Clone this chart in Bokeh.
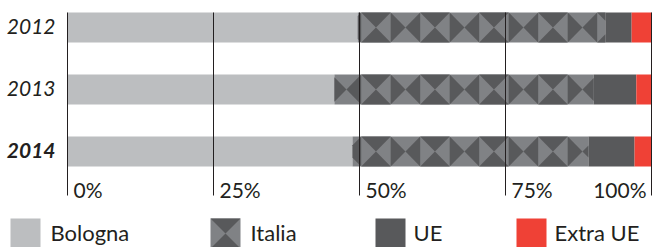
import math
from bokeh.plotting import figure
from bokeh.models import Range1d
from bokeh.embed import file_html
from bokeh.resources import INLINE
from bokeh.core.properties import value

# ---------------- data ----------------
years = ["2012", "2013", "2014"]
bologna = [49.7, 45.7, 48.8]
italia = [42.4, 44.4, 40.4]
ue = [4.5, 7.3, 7.9]
extra_ue = [3.4, 2.6, 2.9]
tick_values = [0, 25, 50, 75, 100]
tick_labels = ["0%", "25%", "50%", "75%", "100%"]
legend_labels = ["Bologna", "Italia", "UE", "Extra UE"]

# ---------------- style / layout ----------------
W, H = 652, 247
X0_PX, PX_PER_PCT = 67.0, 5.84      # px of 0 %, px per %
Y0_PX, PX_PER_ROW = 27.0, 62.0      # px of first row centre, px per row
BAR_PX = 30.0
TILE_PX = 29.5
PATTERN_ORIGIN_PX = 360.7
GRID_BOTTOM_PX = 195.0

C_BOLOGNA = "#bcbec0"
C_ITALIA = "#808285"
C_DARK = "#58595b"
C_RED = "#ef4136"
C_TEXT = "#231f20"
FONT = "Lato"


def xd(px):
    return (px - X0_PX) / PX_PER_PCT


def yd(px):
    return (px - Y0_PX) / PX_PER_ROW


bar_h = BAR_PX / PX_PER_ROW
tile_w = TILE_PX / PX_PER_PCT
pattern_origin = xd(PATTERN_ORIGIN_PX)

p = figure(width=W, height=H, output_backend="svg", toolbar_location=None,
           x_range=Range1d(xd(0), xd(W)), y_range=Range1d(yd(H), yd(0)),
           min_border=0, x_axis_location=None, y_axis_location=None)
p.outline_line_color = None
p.xgrid.visible = False
p.ygrid.visible = False
p.background_fill_color = "white"
p.border_fill_color = "white"

rows = list(range(len(years)))
b_left = [0.0] * len(rows)
b_right = [b_left[i] + bologna[i] for i in rows]
i_right = [b_right[i] + italia[i] for i in rows]
u_right = [i_right[i] + ue[i] for i in rows]
e_right = [u_right[i] + extra_ue[i] for i in rows]

p.hbar(y=rows, left=b_left, right=b_right, height=bar_h, fill_color=C_BOLOGNA, line_color=None)
p.hbar(y=rows, left=b_right, right=i_right, height=bar_h, fill_color=C_ITALIA, line_color=None)


def clip_x(poly, xmin, xmax):
    def clip(pts, inside, inter):
        out = []
        n = len(pts)
        for j in range(n):
            cur, prev = pts[j], pts[j - 1]
            if inside(cur):
                if not inside(prev):
                    out.append(inter(prev, cur))
                out.append(cur)
            elif inside(prev):
                out.append(inter(prev, cur))
        return out

    def ix(xc):
        def f(a, b):
            t = (xc - a[0]) / (b[0] - a[0])
            return (xc, a[1] + t * (b[1] - a[1]))
        return f

    pts = clip(poly, lambda q: q[0] >= xmin, ix(xmin))
    if pts:
        pts = clip(pts, lambda q: q[0] <= xmax, ix(xmax))
    return pts


def tile_triangles(a, w, yc, h, kind):
    top, bot = yc - h / 2, yc + h / 2
    mid = a + w / 2
    if kind == 0:  # dark top and bottom
        return [[(a, top), (a + w, top), (mid, yc)], [(a, bot), (a + w, bot), (mid, yc)]]
    return [[(a, top), (a, bot), (mid, yc)], [(a + w, top), (a + w, bot), (mid, yc)]]


def pattern_polys(l, r, yc, h):
    xs, ys = [], []
    k0 = math.floor((l - pattern_origin) / tile_w)
    k1 = math.ceil((r - pattern_origin) / tile_w)
    for k in range(k0, k1 + 1):
        a = pattern_origin + k * tile_w
        for tri in tile_triangles(a, tile_w, yc, h, k % 2):
            c = clip_x(tri, l, r)
            if len(c) >= 3:
                xs.append([q[0] for q in c])
                ys.append([q[1] for q in c])
    return xs, ys


pxs, pys = [], []
for i in rows:
    xs, ys = pattern_polys(b_right[i], i_right[i], i, bar_h)
    pxs += xs
    pys += ys
p.patches(pxs, pys, fill_color=C_DARK, line_color=None)

p.hbar(y=rows, left=i_right, right=u_right, height=bar_h, fill_color=C_DARK, line_color=None)
p.hbar(y=rows, left=u_right, right=e_right, height=bar_h, fill_color=C_RED, line_color=None)

# grid lines
p.segment(x0=tick_values, x1=tick_values, y0=[-bar_h / 2] * len(tick_values),
          y1=[yd(GRID_BOTTOM_PX)] * len(tick_values), line_color=C_TEXT, line_width=1)

# tick labels
TICK_BASE_PX = 189
p.text(x=tick_values[:-1], y=[yd(TICK_BASE_PX)] * (len(tick_values) - 1), text=tick_labels[:-1],
       text_font=value(FONT), text_font_size="21px", text_color=C_TEXT,
       text_align="left", text_baseline="alphabetic", x_offset=6)
p.text(x=tick_values[-1:], y=[yd(TICK_BASE_PX)], text=tick_labels[-1:],
       text_font=value(FONT), text_font_size="21px", text_color=C_TEXT,
       text_align="right", text_baseline="alphabetic", x_offset=-5)

# year labels
p.text(x=[0] * 2, y=rows[:2], text=years[:2], text_font=value(FONT), text_font_size="21px",
       text_font_style="italic", text_color=C_TEXT, text_align="right", text_baseline="middle",
       x_offset=-12, y_offset=-1)
p.text(x=[0], y=rows[2:], text=years[2:], text_font=value(FONT), text_font_size="21px",
       text_font_style="bold italic", text_color=C_TEXT, text_align="right", text_baseline="middle",
       x_offset=-12, y_offset=-1)

# legend
LEG_SQ_PX = [10, 210, 375, 516]
LEG_TX_PX = [50, 250, 413, 554]
LEG_TOP_PX = 218
LEG_BASE_PX = 232
sq = 30.0
leg_colors = [C_BOLOGNA, C_ITALIA, C_DARK, C_RED]
cx = [xd(v + sq / 2) for v in LEG_SQ_PX]
cy = yd(LEG_TOP_PX + sq / 2)
p.rect(x=cx, y=[cy] * 4, width=sq / PX_PER_PCT, height=sq / PX_PER_ROW,
       fill_color=leg_colors, line_color=None)
lxs, lys = [], []
for tri in tile_triangles(xd(LEG_SQ_PX[1]), sq / PX_PER_PCT, cy, sq / PX_PER_ROW, 0):
    lxs.append([q[0] for q in tri])
    lys.append([q[1] for q in tri])
p.patches(lxs, lys, fill_color=C_DARK, line_color=None)
p.text(x=[xd(v) for v in LEG_TX_PX], y=[yd(LEG_BASE_PX)] * 4, text=legend_labels,
       text_font=value(FONT), text_font_size="22px", text_color=C_TEXT,
       text_align="left", text_baseline="alphabetic")

open("out.html", "w").write(file_html(p, INLINE))
